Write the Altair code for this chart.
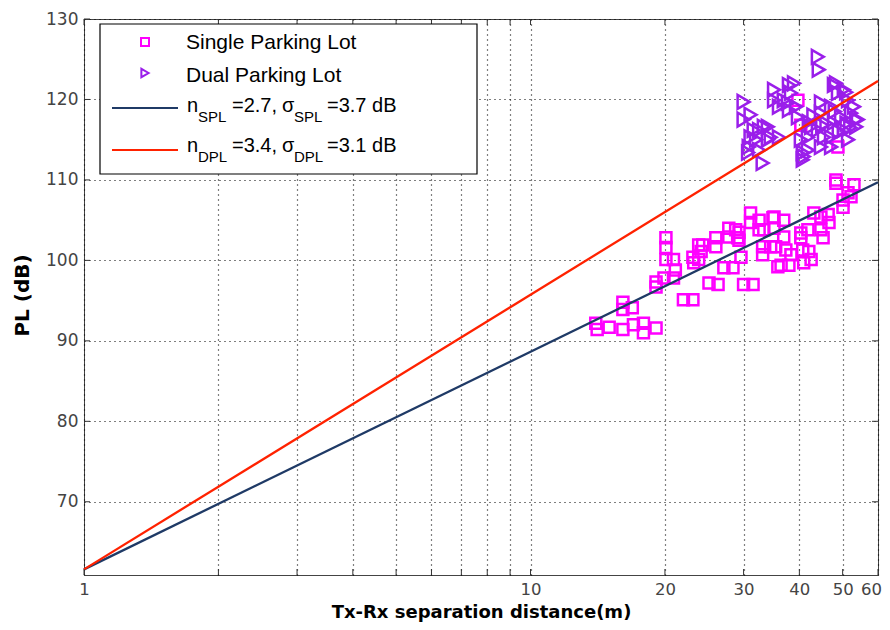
import altair as alt
import pandas as pd

# ---------------- data ----------------
single_d = [14.0, 14.1, 15.0, 16.1, 17.0, 17.9, 17.9, 19.1, 16.1, 16.1,
            16.9, 19.1, 19.1, 19.9, 20.1, 20.1, 20.1, 20.9, 21.1, 20.9,
            22.0, 23.1, 23.1, 23.8, 23.8, 24.3, 23.2, 24.1, 26.0, 26.0,
            27.8, 27.8, 29.3, 29.3, 27.1, 28.4, 25.1, 26.3, 30.0, 31.5,
            31.1, 31.1, 32.5, 32.5, 33.1, 33.1, 34.9, 35.4, 35.8, 33.3,
            35.1, 36.9, 35.1, 36.9, 34.5, 37.3, 38.3, 36.4, 37.9, 40.3,
            40.3, 41.8, 43.1, 44.7, 46.4, 46.6, 44.7, 45.2, 40.7, 42.0,
            40.9, 42.5, 28.8, 29.1, 29.6, 50.1, 52.2, 50.1, 48.3, 53.0,
            48.3, 51.4, 39.7, 40.3, 48.8]
single_pl = [92.2, 91.4, 91.7, 91.4, 92.0, 92.2, 91.0, 91.6, 94.8, 93.9,
             94.1, 97.3, 96.7, 97.8, 102.8, 101.6, 100.1, 100.1, 98.8, 97.8,
             95.1, 95.1, 100.4, 101.9, 100.1, 101.9, 99.7, 101.1, 102.8, 101.7,
             104.0, 102.9, 103.5, 102.5, 99.1, 99.1, 97.2, 97.0, 97.0, 97.0,
             105.9, 104.7, 105.0, 103.8, 101.7, 100.7, 105.3, 101.7, 99.2, 103.8,
             105.4, 105.0, 104.0, 102.9, 101.7, 101.3, 100.7, 99.4, 99.4, 103.4,
             102.8, 103.8, 105.9, 105.4, 105.7, 104.7, 103.8, 102.8, 101.3, 101.1,
             99.7, 100.1, 103.8, 102.8, 100.4, 107.5, 107.9, 106.6, 110.0, 109.4,
             109.6, 108.4, 119.9, 116.8, 114.1]

dual_d = [30.0, 30.0, 31.1, 31.1, 32.5, 32.0, 30.8, 34.0, 34.5, 36.0,
          33.1, 32.5, 35.1, 35.1, 36.0, 37.9, 38.3, 37.7, 39.3, 39.7,
          40.3, 40.7, 41.8, 44.0, 44.2, 44.7, 44.7, 47.1, 47.8, 48.8,
          50.9, 51.4, 47.8, 49.6, 52.2, 53.6, 53.6, 50.3, 47.1, 44.7,
          42.5, 44.0, 45.4, 51.4, 47.1, 41.8, 40.7, 36.9, 37.9, 31.6,
          33.3, 34.0, 30.7, 48.3, 50.3, 53.0, 54.1, 40.9, 38.9, 42.0,
          43.0, 46.0, 49.0, 51.0, 52.0, 45.0, 48.0]
dual_pl = [119.7, 117.5, 118.1, 115.3, 116.2, 115.0, 114.1, 116.6, 115.3, 115.3,
           112.1, 113.7, 121.2, 119.9, 119.1, 121.8, 120.8, 119.6, 119.1, 117.8,
           115.0, 113.4, 113.7, 125.3, 123.7, 119.6, 118.3, 119.1, 121.8, 120.8,
           120.9, 119.9, 117.1, 117.8, 118.3, 117.5, 116.6, 116.2, 114.1, 114.1,
           116.6, 116.2, 115.3, 115.0, 115.3, 115.3, 112.5, 119.9, 118.7, 116.2,
           116.6, 115.0, 113.4, 122.0, 121.2, 119.1, 117.5, 112.9, 122.0, 117.2,
           118.0, 117.0, 116.0, 117.0, 116.5, 116.8, 118.5]

fit_d = [1, 60]
spl_fit = [61.6, 109.7]
dpl_fit = [61.6, 122.3]

x_ticks = [1, 2, 3, 4, 5, 6, 7, 8, 9, 10, 20, 30, 40, 50, 60]
x_labels = [1, 10, 20, 30, 40, 50, 60]
y_ticks = [70, 80, 90, 100, 110, 120, 130]

# ---------------- styling ----------------
W, H = 794, 556
MAGENTA = "#FF00FF"
PURPLE = "#9A1EEA"
NAVY = "#1F3A66"
RED = "#FF2200"
LABEL_FONT = "DejaVu Sans"
TEXT_FONT = "Liberation Sans"
TITLE_FONT = "DejaVu Sans"

xs = alt.Scale(type="log", domain=[1, 60], nice=False)
ys = alt.Scale(domain=[60.9, 130], nice=False, zero=False)

single = pd.DataFrame({"d": single_d, "pl": single_pl})
dual = pd.DataFrame({"d": dual_d, "pl": dual_pl})
fits = pd.DataFrame({"d": fit_d, "spl": spl_fit, "dpl": dpl_fit})

label_expr = "indexof(" + str(x_labels) + ", datum.value) >= 0 ? datum.label : ''"

grid_style = dict(grid=True, gridDash=[1, 4], gridColor="#000", gridOpacity=1, gridWidth=1.2)

x_axis = alt.Axis(values=x_ticks, labelExpr=label_expr, labelOverlap=False, labelFlush=False,
                  labelOffset={"condition": {"test": "datum.value == 60", "value": -7},
                               "value": 0},
                  ticks=False, domain=False, labelFont=LABEL_FONT, labelFontSize=16.5,
                  labelColor="#444", labelPadding=6,
                  title="Tx-Rx separation distance(m)", titleFont=TITLE_FONT,
                  titleFontSize=18, titleFontWeight="bold", titleColor="#000",
                  titleX=W / 2, titleY=37, titleBaseline="middle", **grid_style)
y_axis = alt.Axis(values=y_ticks, ticks=False, domain=False, labelFont=LABEL_FONT,
                  labelFontSize=17, labelColor="#444", labelPadding=6,
                  title="PL (dB)", titleFont=TITLE_FONT, titleFontSize=20,
                  titleFontWeight="bold", titleColor="#000", titleX=-62, titleY=276,
                  titleBaseline="middle", titleAngle=-90, **grid_style)


def X(field):
    return alt.X(field, type="quantitative", scale=xs, axis=x_axis)


def Y(field):
    return alt.Y(field, type="quantitative", scale=ys, axis=y_axis)


squares = alt.Chart(single).mark_point(shape="square", size=121, filled=False,
                                        color=MAGENTA, strokeWidth=2.5, opacity=1).encode(
    x=X("d"), y=Y("pl"))
triangles = alt.Chart(dual).mark_point(shape="triangle-right", size=190, filled=False,
                                        color=PURPLE, strokeWidth=2.5, opacity=1).encode(
    x=X("d"), y=Y("pl"))
line_spl = alt.Chart(fits).mark_line(color=NAVY, strokeWidth=2.3).encode(x=X("d"), y=Y("spl"))
line_dpl = alt.Chart(fits).mark_line(color=RED, strokeWidth=2.3).encode(x=X("d"), y=Y("dpl"))

# inward tick marks on all four sides
xt = pd.DataFrame({"d": x_ticks})
yt = pd.DataFrame({"pl": y_ticks})
TK = 6
tick_style = dict(color="#333", strokeWidth=1)
bottom_ticks = alt.Chart(xt).mark_rule(**tick_style).encode(
    x=X("d"), y=alt.value(H), y2=alt.value(H - TK))
top_ticks = alt.Chart(xt).mark_rule(**tick_style).encode(
    x=X("d"), y=alt.value(0), y2=alt.value(TK))
left_ticks = alt.Chart(yt).mark_rule(**tick_style).encode(
    y=Y("pl"), x=alt.value(0), x2=alt.value(TK))
right_ticks = alt.Chart(yt).mark_rule(**tick_style).encode(
    y=Y("pl"), x=alt.value(W), x2=alt.value(W - TK))

# ---------------- legend ----------------
one = pd.DataFrame({"k": [0]})
leg_box = alt.Chart(one).mark_rect(fill="white", stroke="#000", strokeWidth=1.2).encode(
    x=alt.value(16), x2=alt.value(393), y=alt.value(5), y2=alt.value(155))
leg_sq = alt.Chart(one).mark_point(shape="square", size=64, filled=False, color=MAGENTA,
                                   strokeWidth=2, opacity=1).encode(
    x=alt.value(61), y=alt.value(23))
leg_tri = alt.Chart(one).mark_point(shape="triangle-right", size=70, filled=False,
                                    color=PURPLE, strokeWidth=2, opacity=1).encode(
    x=alt.value(61), y=alt.value(54))
leg_l1 = alt.Chart(one).mark_rule(color=NAVY, strokeWidth=2).encode(
    x=alt.value(28), x2=alt.value(94), y=alt.value(89))
leg_l2 = alt.Chart(one).mark_rule(color=RED, strokeWidth=2).encode(
    x=alt.value(28), x2=alt.value(94), y=alt.value(131))


def txt(s, x, y, size):
    return alt.Chart(one).mark_text(align="left", baseline="alphabetic", font=TEXT_FONT,
                                    fontSize=size, color="#000").encode(
        text=alt.value(s), x=alt.value(x), y=alt.value(y))


legend_texts = [
    txt("Single Parking Lot", 102, 30, 21),
    txt("Dual Parking Lot", 102, 63, 21),
    txt("n", 103, 93, 20), txt("SPL", 114, 103, 15), txt("=2.7,", 148, 93, 20),
    txt("σ", 198, 93, 20), txt("SPL", 210, 103, 15), txt("=3.7 dB", 243, 93, 20),
    txt("n", 103, 133, 20), txt("DPL", 114, 143, 15), txt("=3.4,", 148, 133, 20),
    txt("σ", 198, 133, 20), txt("DPL", 210, 143, 15), txt("=3.1 dB", 243, 133, 20),
]

chart = alt.layer(
    squares, triangles, line_spl, line_dpl,
    bottom_ticks, top_ticks, left_ticks, right_ticks,
    leg_box, leg_sq, leg_tri, leg_l1, leg_l2, *legend_texts,
).properties(
    width=W, height=H,
    autosize=alt.AutoSizeParams(type="none"),
    padding={"left": 76, "top": 11, "right": 4, "bottom": 50},
    background="white",
).configure_view(stroke="#444", strokeWidth=1)

chart.save("out.html", embed_options={"renderer": "svg", "actions": False})
